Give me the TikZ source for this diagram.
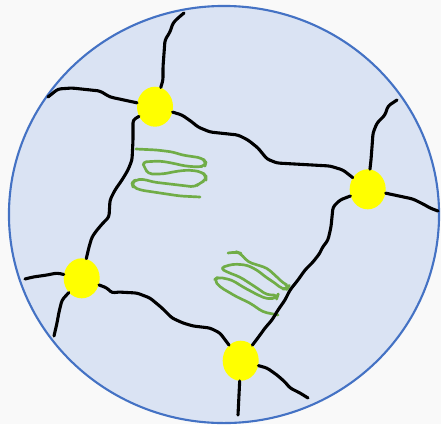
\documentclass[tikz,border=0pt]{standalone}
\usepackage{tikz}
\usepackage{xcolor}
\usetikzlibrary{shapes.geometric}
\definecolor{paper}{RGB}{249,249,249}
\definecolor{grainfill}{RGB}{218,227,243}
\definecolor{grainedge}{RGB}{68,114,196}
\definecolor{jointyellow}{RGB}{255,255,0}
\definecolor{strandgreen}{RGB}{112,173,71}

\tikzset{
  crack/.style={line width=2.2pt, line cap=round, line join=round, rounded corners=2pt},
  joint/.style={ellipse, fill=jointyellow, minimum width=0.9cm, minimum height=1.0cm, inner sep=0pt},
  strand/.style={draw=strandgreen, line width=1.9pt, line cap=round, line join=round, rounded corners=3pt}
}

\begin{document}
\begin{tikzpicture}[x=0.025cm, y=-0.025cm]
\fill[paper] (0,0) rectangle (441,424);
\useasboundingbox (0,0) rectangle (441,424);
% grain
\draw[fill=grainfill, draw=grainedge, line width=1.5pt] (224,214.5) ellipse [x radius=5.375cm, y radius=5.2125cm];
% green strands
\draw[strand] (136,149) -- (157,150) -- (173,152) -- (182,155) -- (202,158) -- (206,162) -- (205,166)
  -- (198,167) -- (185,166) -- (172,163) -- (160,161) -- (142,162) -- (145,168) -- (148,174)
  -- (163,174) -- (178,171) -- (190,170) -- (202,172) -- (206,176) -- (206,180) -- (200,183)
  -- (195,187) -- (187,186) -- (170,184) -- (153,182) -- (143,179) -- (135,180) -- (132,183)
  -- (133,187) -- (140,190) -- (160,193) -- (180,196) -- (200,197);
\draw[strand] (228,253) -- (237,252) -- (240,253) -- (248,262) -- (267,268) -- (277,277) -- (283,283)
  -- (289,286) -- (287,289) -- (282,289) -- (275,283) -- (267,278) -- (257,270) -- (247,265)
  -- (233,264) -- (220,268) -- (227,272) -- (240,277) -- (257,288) -- (267,295) -- (278,295)
  -- (277,298) -- (267,299) -- (258,295) -- (243,287) -- (232,280) -- (218,277) -- (214,280)
  -- (220,287) -- (237,297) -- (250,303) -- (263,312) -- (278,315);
% junctions
\node[joint] (A) at (155,106.7) {};
\node[joint] (B) at (367.7,189.3) {};
\node[joint] (C) at (81.7,278.3) {};
\node[joint] (D) at (240.7,360.7) {};
% free ends
\coordinate (topEnd) at (184,13);
\coordinate (leftEnd) at (48,97);
\coordinate (upRightEnd) at (397,100);
\coordinate (rightEnd) at (438,211);
\coordinate (farLeftEnd) at (25,279);
\coordinate (lowLeftEnd) at (54,336);
\coordinate (bottomEnd) at (238,415);
\coordinate (lowRightEnd) at (308,398);
% cracks
\draw[crack] (A) -- (163,80) -- (163,67) -- (165,40) -- (170,32) -- (173,23) -- (178,18) -- (topEnd);
\draw[crack] (A) -- (110,97) -- (100,91) -- (72,88) -- (58,89) -- (leftEnd);
\draw[crack] (A) -- (133,120) -- (133,140) -- (132,160) -- (128,170) -- (122,180) -- (115,190)
  -- (110,200) -- (109,217) -- (103,223) -- (97,230) -- (92,237) -- (89,247) -- (C);
\draw[crack] (A) -- (182,115) -- (192,122) -- (198,127) -- (210,132) -- (238,135) -- (248,140)
  -- (258,148) -- (267,159) -- (277,163) -- (330,166) -- (343,170) -- (B);
\draw[crack] (B) -- (371,160) -- (372,147) -- (373,133) -- (377,123) -- (385,115) -- (388,106) -- (upRightEnd);
\draw[crack] (B) -- (413,199) -- (425,205) -- (430,208) -- (rightEnd);
\draw[crack] (B) -- (340,200) -- (333,207) -- (331,227) -- (328,240) -- (322,248) -- (320,253)
  -- (313,262) -- (305,270) -- (298,280) -- (290,290) -- (285,300) -- (278,310) -- (272,320)
  -- (265,328) -- (260,335) -- (D);
\draw[crack] (C) -- (57,273) -- (47,275) -- (33,277) -- (farLeftEnd);
\draw[crack] (C) -- (62,300) -- (59,312) -- (57,323) -- (lowLeftEnd);
\draw[crack] (C) -- (107,288) -- (112,293) -- (118,292) -- (137,293) -- (150,298) -- (162,308)
  -- (172,318) -- (183,323) -- (193,326) -- (210,328) -- (220,333) -- (D);
\draw[crack] (D) -- (bottomEnd);
\draw[crack] (D) -- (267,368) -- (277,375) -- (285,382) -- (290,388) -- (300,393) -- (lowRightEnd);
\end{tikzpicture}
\end{document}
